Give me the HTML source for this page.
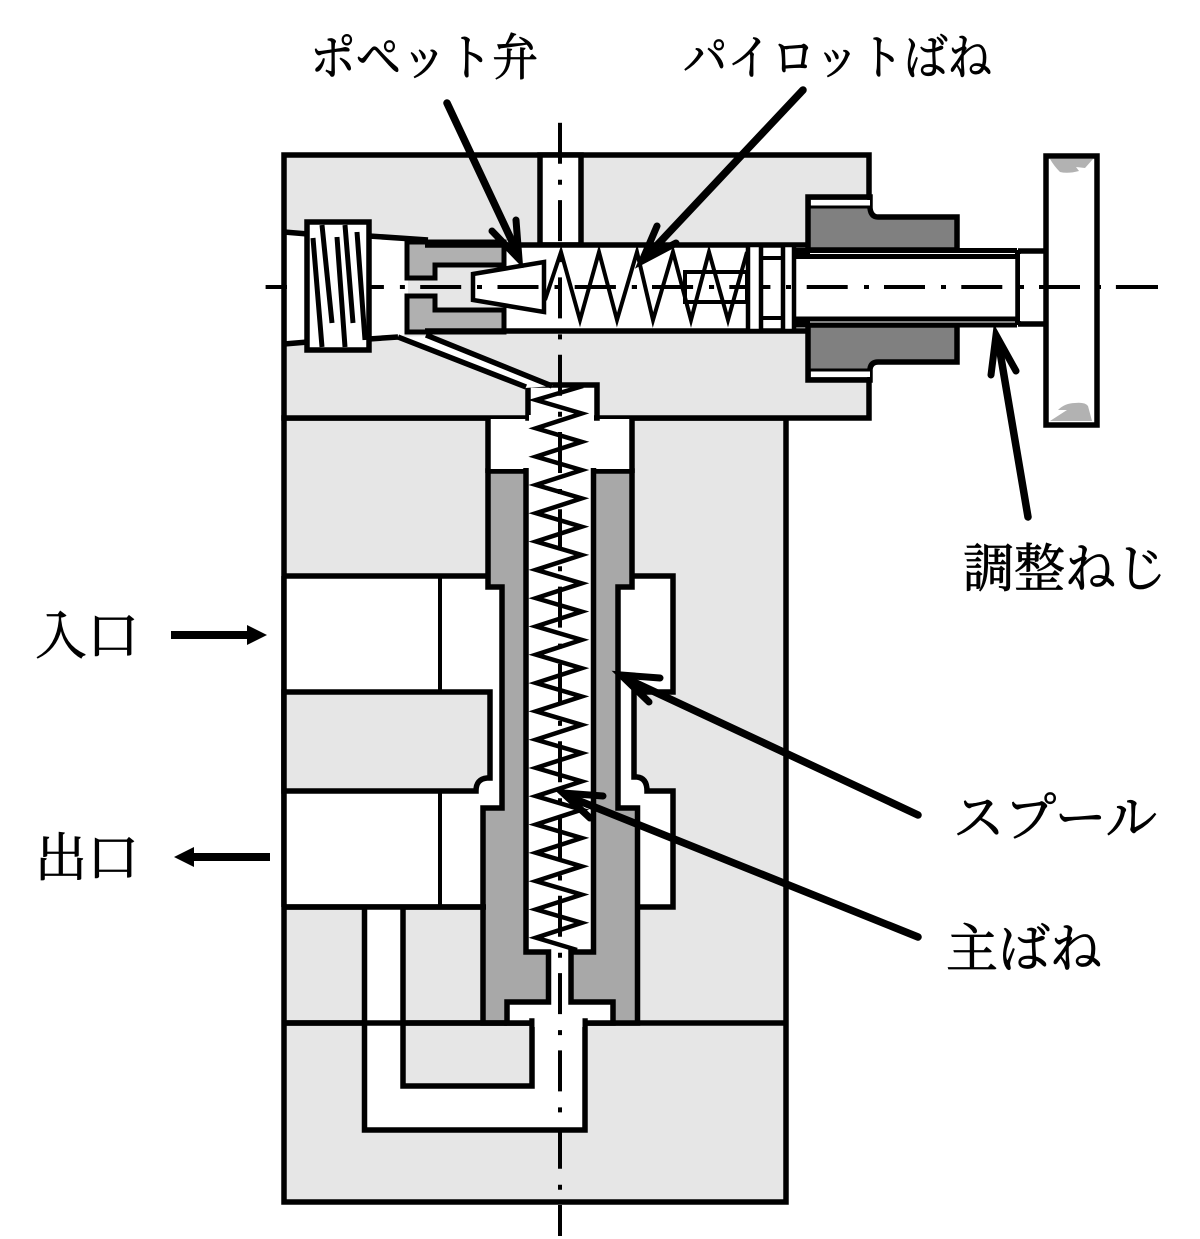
<!DOCTYPE html>
<html><head><meta charset="utf-8"><style>
html,body{margin:0;padding:0;background:#fff}
svg{display:block}
text{font-family:"Liberation Serif","Noto Serif CJK JP","Noto Serif CJK SC",serif;fill:#000;stroke:#000;stroke-width:.8}
</style></head><body>
<svg width="1200" height="1239" viewBox="0 0 1200 1239" xmlns="http://www.w3.org/2000/svg">
<rect width="1200" height="1239" fill="#fff"/>
<g stroke="#000" stroke-width="5.5" fill="none" stroke-linejoin="miter">
<!-- blocks -->
<rect x="284" y="418" width="502" height="784" fill="#e6e6e6"/>
<rect x="284" y="155" width="585" height="263" fill="#e6e6e6"/>
<line x1="284" y1="1023" x2="786" y2="1023"/>
<!-- left ports -->
<rect x="284" y="576" width="222" height="331" fill="#fff" stroke="none"/>
<line x1="284" y1="576" x2="490" y2="576"/>
<line x1="284" y1="907" x2="486" y2="907"/>
<line x1="284" y1="576" x2="284" y2="907"/>
<path d="M284,692 H490 V778 H487 Q476,779 476,791 H284 Z" fill="#e6e6e6"/>
<path d="M440,576 V692 M440,791 V907" stroke-width="4"/>
<!-- right cavity -->
<path d="M610,576 H673 V692 H634 V777 H637 Q647,778 647,791 H673 V907 H610" fill="#fff"/>
<!-- spool -->
<path d="M488,471 V587 H502 V808 H483 V1023 H637.5 V808 H618 V587 H632 V471 Z" fill="#a8a8a8"/>
<!-- upper bore -->
<rect x="488" y="419" width="144" height="50" fill="#fff" stroke="none"/>
<path d="M488,418 V473 M632,418 V473"/>
<rect x="528" y="385" width="69" height="33" fill="#fff"/>
<rect x="529" y="415" width="65" height="6" fill="#fff" stroke="none"/>
<!-- inner bore -->
<path d="M526,468 V952 H548.500 V1002 H507 V1023 H613 V1002 H571 V952 H593.500 V468" fill="#fff"/>
<!-- lower channel -->
<path d="M364.500,907 V1130 H585 V1021 H532 V1086 H403 V907" fill="#fff"/>
<line x1="284" y1="907" x2="486" y2="907"/>
<line x1="284" y1="1023" x2="507" y2="1023"/>
<rect x="534.500" y="1018" width="48" height="9" fill="#fff" stroke="none"/>
<!-- top port -->
<rect x="540" y="155" width="41" height="90" fill="#fff"/>
<!-- chamber -->
<rect x="505" y="245" width="303" height="86" fill="#fff" stroke="none"/>
<path d="M425,245 H808 M425,331 H808"/>
<!-- plug area -->
<path d="M369,236 L428,240 L408,242 V334 L398,337 L369,339 Z" fill="#fff" stroke="none"/>
<path d="M369,236 L428,240"/>
<path d="M369,339 L398,337"/>
<!-- seat -->
<path d="M407,278 V242 H504 V265 H435 V278 Z" fill="#b0b0b0" stroke-width="5"/>
<path d="M407,296 H435 V310 H504 V332 H407 Z" fill="#b0b0b0" stroke-width="5"/>
<path d="M425,245 H504 M425,331 H504"/>
<!-- diagonal passage -->
<path d="M398,337 L426,336 L553,386 L525,388 Z" fill="#fff" stroke="none"/>
<path d="M398,337 L526,387 M426,335 L552,386"/>
</g>
<!-- centre line horizontal -->
<line x1="265.600" y1="287" x2="1158" y2="287" stroke="#000" stroke-width="4" stroke-dasharray="41 16 5 15.300"/>
<g stroke="#000" stroke-width="5.500" fill="none">
<!-- left channel -->
<rect x="287" y="232" width="20" height="111" fill="#fff" stroke="none"/>
<path d="M284,232 L308,234 M284,344 L308,342"/>
<!-- screw -->
<rect x="307" y="222" width="62" height="128" fill="#fff"/>
<path d="M313,238 L322,347 M322,225 L332,323 M337,237 L345,347 M345,225 L353,323 M357,232 L365,340" stroke-width="5"/>
<!-- poppet -->
<path d="M473,274 L544,262 V312 L473,300 Z" fill="#fff" stroke-width="4.500"/>
<!-- pilot spring -->
<rect x="685" y="272" width="62" height="30" stroke-width="4"/>
<polyline points="545,300 561,252 580,320 599,252 617,320 637,252 653,320 673,252 691,320 709,252 728,320 747,252" stroke-width="4"/>
<!-- collars -->
<rect x="748" y="245" width="13" height="86" fill="#fff" stroke-width="4.500"/>
<path d="M761,258 H783 M761,318 H783" stroke-width="4"/>
<rect x="783" y="245" width="11" height="86" fill="#fff" stroke-width="4.500"/>
<!-- nut -->
<path d="M808,197 H870 V208 Q871,217 878,217 H957 V250 H808 Z" fill="#808080"/>
<path d="M808,325 H957 V362 H878 Q871,362 870,369 V380 H808 Z" fill="#808080"/>
<rect x="811" y="200" width="59" height="6" fill="#fff" stroke="none"/>
<rect x="811" y="371" width="59" height="6" fill="#fff" stroke="none"/>
<path d="M808,207 H870 M808,370 H870" stroke-width="3"/>
<!-- rod -->
<rect x="798" y="255" width="219" height="66" fill="#fff" stroke="none"/>
<path d="M794,253.500 H1017 M794,322 H1017" stroke-width="11"/>
<path d="M810,253.500 H1015 M810,322 H1015" stroke="#fff" stroke-width="1"/>
<line x1="1018" y1="250" x2="1018" y2="325"/>
<path d="M1018,251 H1046 M1018,324 H1046"/>
<rect x="1020" y="254" width="24" height="67" fill="#fff" stroke="none"/>
<!-- handle -->
<rect x="1046" y="156" width="51" height="269" fill="#fff"/>
<path d="M1050,159 H1093 L1085,168 L1076,167 L1079,171 Q1068,174 1060,172 Q1054,166 1050,159 Z M1050,421 L1067,410 L1058,410 Q1065,403 1075,403 Q1085,402 1088,406 L1092,421 Z" fill="#b2b2b2" stroke="none"/>
</g>
<!-- redraw rod centre dashes -->
<g fill="#000">
<rect x="806.700" y="285" width="41" height="4"/><rect x="864" y="285" width="5" height="4"/>
<rect x="884" y="285" width="41" height="4"/><rect x="941" y="285" width="5" height="4"/>
<rect x="961.300" y="285" width="41" height="4"/><rect x="1019" y="285" width="5" height="4"/>
<rect x="1039" y="285" width="41" height="4"/><rect x="1096" y="285" width="5" height="4"/>
<rect x="1116" y="285" width="42" height="4"/>
<rect x="729.400" y="285" width="18" height="4"/><rect x="786" y="285" width="5" height="4"/>
<rect x="652" y="285" width="41" height="4"/><rect x="709" y="285" width="5" height="4"/>
<rect x="574.800" y="285" width="41" height="4"/><rect x="632" y="285" width="5" height="4"/>
<rect x="497.500" y="285" width="41" height="4"/><rect x="477" y="285" width="5" height="4"/>
<rect x="555" y="285" width="5" height="4"/>
</g>
<!-- vertical centre line -->
<line x1="560" y1="122.800" x2="560" y2="1236" stroke="#000" stroke-width="4" stroke-dasharray="41 16 5 15.300"/>
<!-- main spring -->
<polyline fill="none" stroke="#000" stroke-width="4.500" points="583,386 536,400 581.700,413.500 536,428.300 581.700,441.800 536,456.600 581.700,470.100 536,484.900 581.700,498.400 536,513.200 581.700,526.700 536,541.500 581.700,555 536,569.800 581.700,583.300 536,598.100 581.700,611.600 536,626.400 581.700,639.900 536,654.700 581.700,668.200 536,683 581.700,696.500 536,711.300 581.700,724.800 536,739.600 581.700,753.100 536,767.900 581.700,781.400 536,796.200 581.700,809.700 536,824.500 581.700,838 536,852.800 581.700,866.300 536,881.100 581.700,894.600 536,909.400 581.700,922.900 536,937.700 577,950"/>
<!-- leader arrows -->
<g fill="none" stroke="#000" stroke-width="7.500" stroke-linecap="round" stroke-linejoin="miter">
<path d="M447,103 L518,254"/><path d="M492,231 L519,259 L516,220" stroke-width="7"/>
<path d="M803,90 L645,258"/><path d="M657,226 L642,261 L676,243" stroke-width="7"/>
<path d="M1028,517 L998,340"/><path d="M991,375 L996,335 L1016,371" stroke-width="7"/>
<path d="M918,815 L625,678"/><path d="M660,678 L621,675 L649,702" stroke-width="7"/>
<path d="M918,937 L567,796"/><path d="M603,796 L563,793 L590,818" stroke-width="7"/>
</g>
<!-- port arrows -->
<path d="M171,631 H247 V625 L267,635 L247,645 V639 H171 Z" fill="#000"/>
<path d="M270,853 H194 V847 L174,857 L194,867 V861 H270 Z" fill="#000"/>
<!-- labels -->
<text x="310" y="75" font-size="50" textLength="228" lengthAdjust="spacingAndGlyphs">ポペット弁</text>
<text x="683" y="74" font-size="48" textLength="309" lengthAdjust="spacingAndGlyphs">パイロットばね</text>
<text x="963" y="587" font-size="52" textLength="204" lengthAdjust="spacingAndGlyphs">調整ねじ</text>
<text x="953" y="836" font-size="52" textLength="204" lengthAdjust="spacingAndGlyphs">スプール</text>
<text x="946" y="967" font-size="52" textLength="156" lengthAdjust="spacingAndGlyphs">主ばね</text>
<text x="35" y="654" font-size="52" textLength="104" lengthAdjust="spacingAndGlyphs">入口</text>
<text x="35" y="876" font-size="52" textLength="104" lengthAdjust="spacingAndGlyphs">出口</text>
</svg>
</body></html>
